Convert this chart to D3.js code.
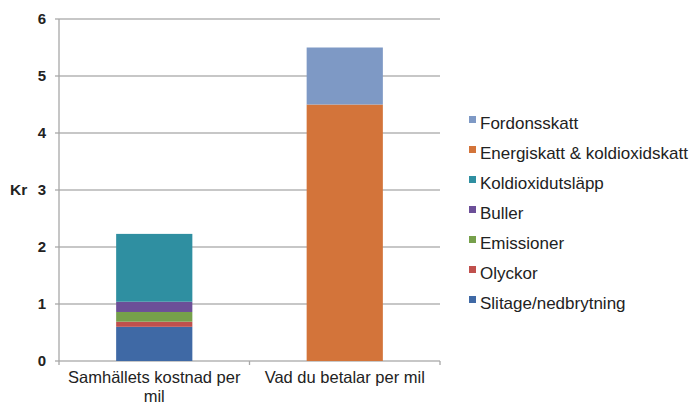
<!DOCTYPE html>
<html>
<head>
<meta charset="utf-8">
<script src="https://cdn.jsdelivr.net/npm/d3@7"></script>
<style>
  body { margin: 0; background: #fff; }
  svg { display: block; font-family: "Liberation Sans", Arial, sans-serif; }
</style>
</head>
<body>
<svg id="chart"></svg>
<script>
const categories = ["Samhällets kostnad per mil", "Vad du betalar per mil"];
const seriesNames = ["Slitage/nedbrytning", "Olyckor", "Emissioner", "Buller",
    "Koldioxidutsläpp", "Energiskatt & koldioxidskatt", "Fordonsskatt"];
// one value per category, in category order
const slitage = [0.6, 0];
const olyckor = [0.09, 0];
const emissioner = [0.17, 0];
const buller = [0.18, 0];
const koldioxidutslapp = [1.19, 0];
const energiskatt = [0, 4.5];
const fordonsskatt = [0, 1.0];
const yTicks = [0, 1, 2, 3, 4, 5, 6];

const seriesValues = [slitage, olyckor, emissioner, buller, koldioxidutslapp, energiskatt, fordonsskatt];
const colors = ["#3f69a5", "#c0504d", "#76a04b", "#6c4f98", "#2f8fa1", "#d3743a", "#7e99c5"];

const width = 689, height = 406;
const margin = { top: 19, right: 249, bottom: 45, left: 59 };

const svg = d3.select("#chart").attr("width", width).attr("height", height);

const table = categories.map((c, i) => {
    const row = { cat: c };
    seriesNames.forEach((s, j) => row[s] = seriesValues[j][i]);
    return row;
});
const stacked = d3.stack().keys(seriesNames)(table);

const x = d3.scaleBand()
    .domain(categories)
    .range([margin.left, width - margin.right])
    .paddingInner(0.6)
    .paddingOuter(0.3);

const y = d3.scaleLinear()
    .domain([0, 6])
    .range([height - margin.bottom, margin.top]);

// gridlines
svg.append("g")
    .selectAll("line")
    .data(yTicks)
    .join("line")
    .attr("x1", margin.left - 4)
    .attr("x2", width - margin.right)
    .attr("y1", d => y(d))
    .attr("y2", d => y(d))
    .attr("stroke", "#b5b5b5")
    .attr("stroke-width", 1.3);

// y axis line
svg.append("line")
    .attr("x1", margin.left).attr("x2", margin.left)
    .attr("y1", y(6)).attr("y2", y(0))
    .attr("stroke", "#a8a8a8")
    .attr("stroke-width", 1.3);

// category divider tick
const step = (width - margin.right - margin.left) / categories.length;
svg.append("g")
    .selectAll("line")
    .data(d3.range(categories.length + 1))
    .join("line")
    .attr("x1", i => margin.left + i * step)
    .attr("x2", i => margin.left + i * step)
    .attr("y1", y(0))
    .attr("y2", y(0) + 4)
    .attr("stroke", "#a8a8a8")
    .attr("stroke-width", 1.3);

// y tick labels
svg.append("g")
    .selectAll("text")
    .data(yTicks)
    .join("text")
    .attr("x", margin.left - 13)
    .attr("y", d => y(d))
    .attr("dy", "0.35em")
    .attr("text-anchor", "end")
    .attr("font-size", 15)
    .attr("font-weight", "bold")
    .attr("fill", "#222")
    .text(d => d);

svg.append("text")
    .attr("x", 10)
    .attr("y", y(3))
    .attr("dy", "0.35em")
    .attr("font-size", 15.5)
    .attr("font-weight", "bold")
    .attr("fill", "#222")
    .text("Kr");

// bars
svg.append("g")
    .selectAll("g")
    .data(stacked)
    .join("g")
    .attr("fill", (d, i) => colors[i])
    .selectAll("rect")
    .data(d => d.filter(p => p[1] - p[0] > 0))
    .join("rect")
    .attr("x", d => x(d.data.cat))
    .attr("width", x.bandwidth())
    .attr("y", d => y(d[1]))
    .attr("height", d => y(d[0]) - y(d[1]));

// x labels (first one wraps onto a second line)
const xl = svg.append("g")
    .selectAll("text")
    .data(categories)
    .join("text")
    .attr("x", d => x(d) + x.bandwidth() / 2)
    .attr("y", y(0) + 22)
    .attr("text-anchor", "middle")
    .attr("font-size", 16.5)
    .attr("fill", "#222");
xl.each(function (d) {
    const t = d3.select(this);
    if (d.startsWith("Samhällets")) {
        t.append("tspan").attr("x", x(d) + x.bandwidth() / 2).text("Samhällets kostnad per");
        t.append("tspan").attr("x", x(d) + x.bandwidth() / 2).attr("dy", 19).text("mil");
    } else {
        t.text(d);
    }
});

// legend, top to bottom in reverse series order
const legendItems = seriesNames.map((s, i) => ({ name: s, color: colors[i] })).reverse();
const legend = svg.append("g").attr("transform", "translate(469, 123)");
const li = legend.selectAll("g")
    .data(legendItems)
    .join("g")
    .attr("transform", (d, i) => `translate(0, ${i * 30})`);
li.append("rect")
    .attr("x", 0).attr("y", -7)
    .attr("width", 7).attr("height", 7)
    .attr("fill", d => d.color);
li.append("text")
    .attr("x", 11)
    .attr("y", 0)
    .attr("dy", "0.35em")
    .attr("font-size", 17)
    .attr("fill", "#222")
    .text(d => d.name);
</script>
</body>
</html>
